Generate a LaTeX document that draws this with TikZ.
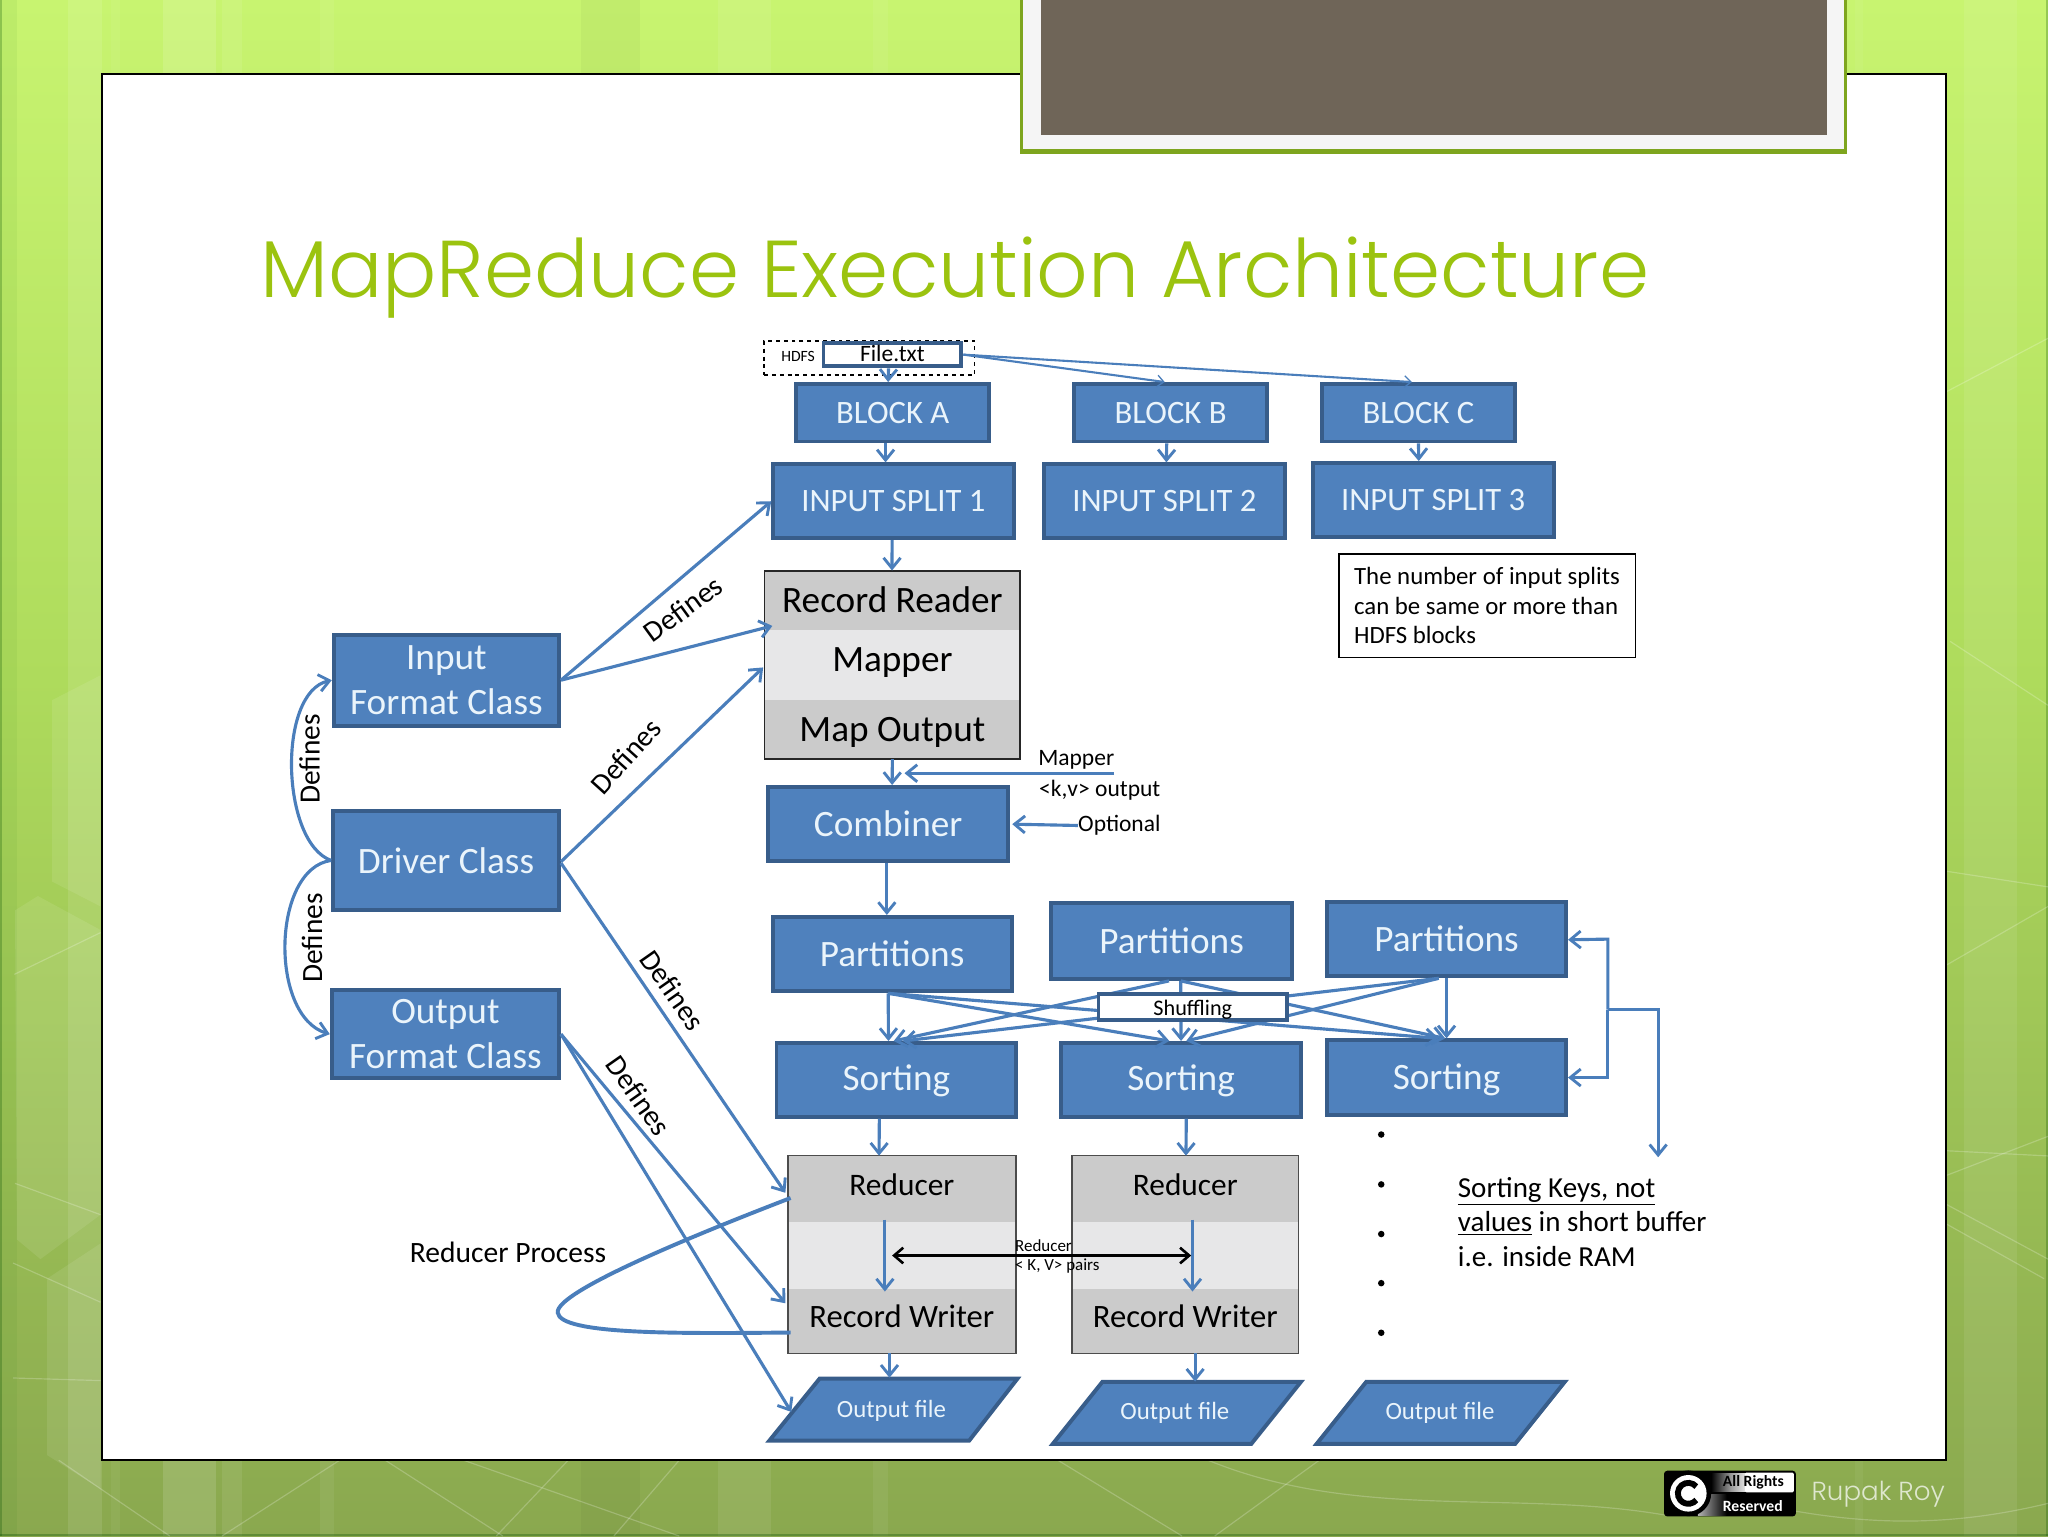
\documentclass[tikz,border=0pt]{standalone}
\usepackage{fontspec}
\setmainfont{Carlito}
\newfontfamily\titlefont{Poppins Light}
\usetikzlibrary{arrows.meta,calc,shadings}
\definecolor{boxfill}{HTML}{4F81BD}
\definecolor{boxline}{HTML}{385D8A}
\definecolor{arrowblue}{HTML}{4A7EBB}
\definecolor{boxtext}{HTML}{EAF4FB}
\definecolor{banddark}{HTML}{CBCBCB}
\definecolor{bandlight}{HTML}{E7E7E8}
\definecolor{titlegreen}{HTML}{9BC30F}
\definecolor{framegreen}{HTML}{7EA51E}
\definecolor{framebrown}{HTML}{6F6558}
\definecolor{bgtop}{HTML}{C8F470}
\definecolor{bgmid}{HTML}{AEDB5C}
\definecolor{bgbot}{HTML}{8AA84F}
\newcommand{\fsz}[1]{\fontsize{#1}{#1}\selectfont}
\newcommand{\bx}[7]{\node[#6,minimum width={#4-#2},minimum height={#5-#3}] (#1) at ({(#2+#4)/2},{(#3+#5)/2}) {#7};}
\tikzset{
  bluebox/.style={draw=boxline,fill=boxfill,line width=3pt,text=boxtext,inner sep=0pt,align=center,rectangle},
  bigtxt/.style={font=\fsz{28.5}},
  midtxt/.style={font=\fsz{25}},
  band/.style={fill=#1,draw=none,inner sep=0pt,rectangle,text=black},
  link/.style={draw=arrowblue,line width=2.4pt,-{Straight Barb[length=8pt,width=13pt,line width=2.2pt]}},
  thinlink/.style={draw=arrowblue,line width=1.6pt,-{Straight Barb[length=5pt,width=9pt,line width=1pt]}},
  lab/.style={inner sep=0pt,text=black},
  rotlab/.style={inner sep=0pt,text=black,font=\fsz{22.5}},
  para/.style={fill=boxfill,draw=boxline,line width=3pt,line join=miter},
  paratext/.style={inner sep=0pt,text=boxtext,font=\fsz{19}},
  glint/.style={draw=white,opacity=0.22,line width=0.9pt},
  facet/.style={fill=white,opacity=0.09}
}
\begin{document}
\begin{tikzpicture}[x=1pt,y=-1pt]
\useasboundingbox (0,0) rectangle (1568,1176);
% background
\shade[top color=bgtop,bottom color=bgmid] (0,0) rectangle (1568,520);
\shade[top color=bgmid,bottom color=bgbot] (0,520) rectangle (1568,1176);
\fill[black!60!green,opacity=0.05] (0,0) rectangle (13,1176);
\foreach \xa/\xb/\op in {52/78/0.10,85/92/0.05,125/165/0.13,170/185/0.08,245/256/0.06,550/590/0.08,668/680/0.06,1420/1426/0.05,1504/1544/0.08}
  \fill[white,opacity=\op] (\xa,0) rectangle (\xb,1176);
\fill[black,opacity=0.03] (445,0) rectangle (490,1176);
\fill[black!70!green,opacity=0.25] (0,0) rectangle (1.2,1176);
\fill[black!70!green,opacity=0.25] (1566.8,0) rectangle (1568,1176);
\fill[black!70!green,opacity=0.3] (0,1174.8) rectangle (1568,1176);
\fill[facet] (40,536) -- (77,517) -- (77,694) -- (40,675) -- cycle;
\fill[facet] (11.5,697) -- (29,686) -- (77,712) -- (77,930) -- (31,964) -- (13,949) -- cycle;
\fill[facet] (36,979) -- (77,952) -- (77,1140) -- (36,1114) -- cycle;
\foreach \ax/\ay/\bx/\by in {10/967/77/997,11.5/906/77/930,11/746/77/714,10/1055/77/1057,1490/300/1568/259,1493/491/1568/540,1490/667/1568/679,1490/739/1568/694,1490/881/1568/885,1490/900/1568/870,1490/922/1568/964,1490/937/1565/979,45/1118/130/1176,260/1118/170/1176,295/1118/385/1176,355/1118/520/1176,435/1118/380/1176,520/1118/470/1176,810/1118/905/1176,1010/1118/930/1176}
  \draw[glint] (\ax,\ay) -- (\bx,\by);
\draw[glint] (925,1118) .. controls (1040,1165) and (1160,1140) .. (1275,1160);
\draw[glint] (1375,1157) .. controls (1450,1170) and (1510,1165) .. (1568,1151);
% white panel
\fill[white,draw=black,line width=1.5pt] (78,57) rectangle (1490,1118);
% top frame
\fill[framegreen] (781,0) rectangle (1414,118);
\fill[white!96!black] (783,0) rectangle (1412,114);
\fill[framebrown] (797,0) rectangle (1399,103);
% title
\node[anchor=base west,inner sep=0pt,text=titlegreen,font=\titlefont\fsz{61.7}] (title) at (199,228) {MapReduce Execution Architecture};
% boxes
\node[draw=black,dashed,line width=1pt,inner sep=0pt,minimum width=161pt,minimum height=26pt] (hdfs) at (665.5,274) {};
\node[lab,font=\fsz{12}] (hdfslab) at (611,273) {HDFS};
\bx{file}{630.5}{262.5}{736}{280.5}{draw=boxline,fill=white,line width=3pt,inner sep=0pt,text=black,font=\fsz{18},text depth=2pt}{File.txt}
\bx{blockA}{609.5}{294}{757.5}{338}{bluebox,midtxt}{BLOCK A}
\bx{blockB}{822.5}{294}{970}{338}{bluebox,midtxt}{BLOCK B}
\bx{blockC}{1012}{294}{1160}{338}{bluebox,midtxt}{BLOCK C}
\bx{splitA}{592}{355.5}{776}{412}{bluebox,midtxt}{INPUT SPLIT 1}
\bx{splitB}{799.5}{355.5}{983.5}{412}{bluebox,midtxt}{INPUT SPLIT 2}
\bx{splitC}{1005}{354.5}{1189.5}{411}{bluebox,midtxt}{INPUT SPLIT 3}
% mapper stack
\bx{reader}{585.5}{437}{781}{482}{band=banddark,font=\fsz{28.5}}{Record Reader}
\bx{mapperb}{585.5}{482}{781}{536}{band=bandlight,font=\fsz{28.5},text depth=7.5pt}{Mapper}
\bx{mapout}{585.5}{536}{781}{581}{band=banddark,font=\fsz{28.5},text height=22.5pt}{Map Output}
\draw[black!85,line width=1.5pt] (reader.north west) rectangle (mapout.south east);
\bx{combiner}{588}{602.5}{772}{659.5}{bluebox,bigtxt}{Combiner}
\bx{note}{1025}{424}{1252}{503.5}{draw=black,fill=white,line width=1.2pt,inner sep=0pt,text=black,font=\fontsize{19}{22.7}\selectfont,align=left}{The number of input splits\\can be same or more than\\HDFS blocks}
\node[lab,font=\fsz{18}] (mapperlab) at (824,582) {Mapper};
\node[lab,font=\fsz{18}] (kvlab) at (842,605) {<k,v> output};
\node[lab,font=\fsz{18}] (optional) at (857,632) {Optional};
\coordinate (mapperend) at (853,592);
\coordinate (mapperhead) at (692.5,592);
\coordinate (opthead) at (775,631);
% driver classes
\bx{inputc}{255.5}{486}{428}{555.5}{bluebox,font=\fontsize{28.5}{34}\selectfont}{Input\\Format Class}
\bx{driver}{255}{621}{428}{696.5}{bluebox,bigtxt}{Driver Class}
\bx{outputc}{254}{758}{428}{825.5}{bluebox,font=\fontsize{28.5}{34}\selectfont}{Output\\Format Class}
% partitions
\bx{partA}{591.5}{702}{774.5}{759}{bluebox,bigtxt}{Partitions}
\bx{partB}{805}{691.5}{989}{749.5}{bluebox,bigtxt}{Partitions}
\bx{partC}{1016}{690.5}{1199}{747.5}{bluebox,bigtxt}{Partitions}
% sorting
\bx{sortA}{594.5}{798.5}{778}{855}{bluebox,bigtxt,text height=21pt}{Sorting}
\bx{sortB}{812.5}{798.5}{996}{855}{bluebox,bigtxt,text height=21pt}{Sorting}
\bx{sortC}{1016}{796.5}{1199}{853.5}{bluebox,bigtxt,text height=23pt}{Sorting}
% shuffle links
\draw[link] ([xshift=-3pt]partA.south) -- ([xshift=-6pt]sortA.north);
\draw[link] ([xshift=-3pt]partA.south) -- ([xshift=-9pt]sortB.north);
\draw[link] ([xshift=-3pt]partA.south) -- ([xshift=-6pt]sortC.north);
\draw[link] ([xshift=-2pt]partB.south) -- ([xshift=-2pt]sortA.north);
\draw[link] ([xshift=7pt]partB.south) -- (sortB.north);
\draw[link] ([xshift=7pt]partB.south) -- ([xshift=-1pt]sortC.north);
\draw[link] (partC.south) -- (sortC.north);
\draw[link] ([xshift=-6pt]partC.south) -- ([xshift=5pt]sortA.north);
\draw[link] ([xshift=-6pt]partC.south) -- ([xshift=4pt]sortB.north);
\bx{shuffle}{841}{761}{985.5}{781}{draw=boxline,fill=white,line width=3pt,inner sep=0pt,text=black,font=\fsz{17},text height=16pt}{Shuffling}
% reducers
\bx{redA}{603.5}{885}{777.5}{935.5}{band=banddark,font=\fsz{24},text depth=6pt}{Reducer}
\bx{redAm}{603.5}{935.5}{777.5}{987}{band=bandlight}{}
\bx{recA}{603.5}{987}{777.5}{1036}{band=banddark,font=\fsz{25},text depth=7pt}{Record Writer}
\draw[black!70,line width=1.2pt] (redA.north west) rectangle (recA.south east);
\bx{redB}{821}{885}{994}{935.5}{band=banddark,font=\fsz{24},text depth=6pt}{Reducer}
\bx{redBm}{821}{935.5}{994}{987}{band=bandlight}{}
\bx{recB}{821}{987}{994}{1036}{band=banddark,font=\fsz{25},text depth=7pt}{Record Writer}
\draw[black!70,line width=1.2pt] (redB.north west) rectangle (recB.south east);
% output files
\path[para] (627.5,1055.5) -- (779,1055.5) -- (742,1103) -- (589,1103) -- cycle;
\path[para] (844,1058) -- (996,1058) -- (958,1105.5) -- (806,1105.5) -- cycle;
\path[para] (1046,1058) -- (1198,1058) -- (1160,1105.5) -- (1008,1105.5) -- cycle;
\bx{outA}{630}{1055}{735}{1105}{paratext}{Output file}
\bx{outB}{847}{1058}{952}{1105}{paratext}{Output file}
\bx{outC}{1050}{1058}{1155}{1105}{paratext}{Output file}
% top connectors
\draw[link] ([xshift=-3pt]file.south) -- ([xshift=-3.5pt]blockA.north);
\draw[thinlink] (file.east) -- ([xshift=-4.5pt]blockB.north);
\draw[thinlink] (file.east) -- ([xshift=-5pt]blockC.north);
\draw[link] ([xshift=-5.5pt]blockA.south) -- ([xshift=-6pt]splitA.north);
\draw[link] ([xshift=-3pt]blockB.south) -- ([xshift=1.5pt]splitB.north);
\draw[link] (blockC.south) -- ([xshift=-11pt]splitC.north);
\draw[link] ([xshift=-1pt]splitA.south) -- ([xshift=-0.3pt]reader.north);
\draw[link] (mapout.south) -- ([xshift=3pt]combiner.north);
\draw[link] (mapperend) -- (mapperhead);
\draw[link] (optional.west) -- (opthead);
\draw[link] ([xshift=-1pt]combiner.south) -- ([xshift=-4pt]partA.north);
\draw[link] ([xshift=-13pt]sortA.south) -- ([xshift=-17.5pt]redA.north);
\draw[link] ([xshift=4pt]sortB.south) -- ([xshift=0.5pt]redB.north);
\draw[link] ([xshift=-13pt,yshift=2pt]redA.south) -- ([xshift=-13pt,yshift=-2pt]recA.north);
\draw[link] ([xshift=5.5pt,yshift=2pt]redB.south) -- ([xshift=5.5pt,yshift=-2pt]recB.north);
\draw[link] ([xshift=-9.5pt]recA.south) -- ([xshift=-1.5pt]outA.north);
\draw[link] ([xshift=7.5pt]recB.south) -- ([xshift=15.5pt]outB.north);
\draw[black,line width=2pt,{Straight Barb[length=7pt,width=12pt,line width=2pt]}-{Straight Barb[length=7pt,width=12pt,line width=2pt]}] ([xshift=-7.5pt]redAm.center) -- ([xshift=4.5pt]redBm.center);
\node[lab,anchor=west,font=\fsz{13}] (redlab) at (777,954) {Reducer};
\node[lab,anchor=west,font=\fsz{13}] (kvpairs) at (777,969.5) {< K, V> pairs};
% left connectors
\draw[link] (inputc.east) -- (splitA.west);
\draw[link] (inputc.east) -- ([xshift=6pt,yshift=3pt]reader.south west);
\draw[link] ([yshift=-1pt]driver.east) -- ([yshift=-2pt,xshift=-1pt]mapperb.west);
\draw[link] ([yshift=-2pt]driver.east) -- ([xshift=-2pt,yshift=22.5pt]redA.south west);
\draw[link] (outputc.east) -- ([xshift=-2pt,yshift=-11pt]recA.north west);
\draw[link] (outputc.east) -- ([xshift=-24pt,yshift=-1pt]outA.west);
\draw[link] (driver.west) .. controls (215,645) and (212,530) .. (inputc.west);
\draw[link] (driver.west) .. controls (208,665) and (206,778) .. (outputc.west);
\draw[draw=arrowblue,line width=3pt] ([xshift=2pt,yshift=18.5pt]redA.south west) .. controls (520,950) and (425,990) .. (427,1005) .. controls (429,1022) and (520,1021) .. ([xshift=2pt,yshift=16pt]recA.south west);
% right connectors
\coordinate (bar) at (1231,773);
\coordinate (sortnote) at (1269.5,886);
\draw[link] (bar) -- (bar |- partC.east) -- ([yshift=-0.5pt]partC.east);
\draw[link] (bar) -- (bar |- sortC.east) -- (sortC.east);
\draw[link] (bar) -- (sortnote |- bar) -- (sortnote);
% labels
\node[rotlab,rotate=36] (dfA) at (523,466) {Defines};
\node[rotlab,rotate=48] (dfB) at (479,579) {Defines};
\node[rotlab,rotate=-55] (dfC) at (515,758) {Defines};
\node[rotlab,rotate=-55] (dfD) at (489,839) {Defines};
\node[rotlab,rotate=90] (dfE) at (237,581) {Defines};
\node[rotlab,rotate=90] (dfF) at (239,718) {Defines};
\node[lab,font=\fsz{22.6}] (reducerproc) at (389,959) {Reducer Process};
\node[lab,anchor=north west,font=\fontsize{22.2}{26.5}\selectfont,align=left] (sortkeys) at (1116,901) {\underline{Sorting Keys, not}\\\underline{values} in short buffer\\i.e. inside RAM};
\foreach \yy in {868.6,906.8,944.8,982.4,1020.4} \fill[black] (1057.5,\yy) circle (2.5pt);
% badge
\fill[black,rounded corners=2.5pt] (1274,1126) rectangle (1375,1161);
\shade[left color=black,right color=white,middle color=black!40] (1310,1128) rectangle (1340,1142);
\fill[white,rounded corners=1pt] (1336,1127.5) rectangle (1373.5,1142.5);
\shade[left color=white!70!black,right color=black] (1300,1144) rectangle (1322,1160);
\fill[black] (1292.6,1143.3) circle (17.5pt);
\fill[white] (1292.6,1143.3) circle (14pt);
\draw[black,line width=4.5pt] (1292.6,1143.3) ++(40:8pt) arc[start angle=40,end angle=320,radius=8pt];
\node[inner sep=0pt,text=black,font=\bfseries\fsz{12}] (allrights) at (1342.4,1135) {All Rights};
\node[inner sep=0pt,text=white,font=\bfseries\fsz{12}] (reserved) at (1342,1153) {Reserved};
\node[inner sep=0pt,text=white!72!bgbot,font=\titlefont\fsz{20}] (rupak) at (1438,1144) {Rupak Roy};
\end{tikzpicture}
\end{document}
